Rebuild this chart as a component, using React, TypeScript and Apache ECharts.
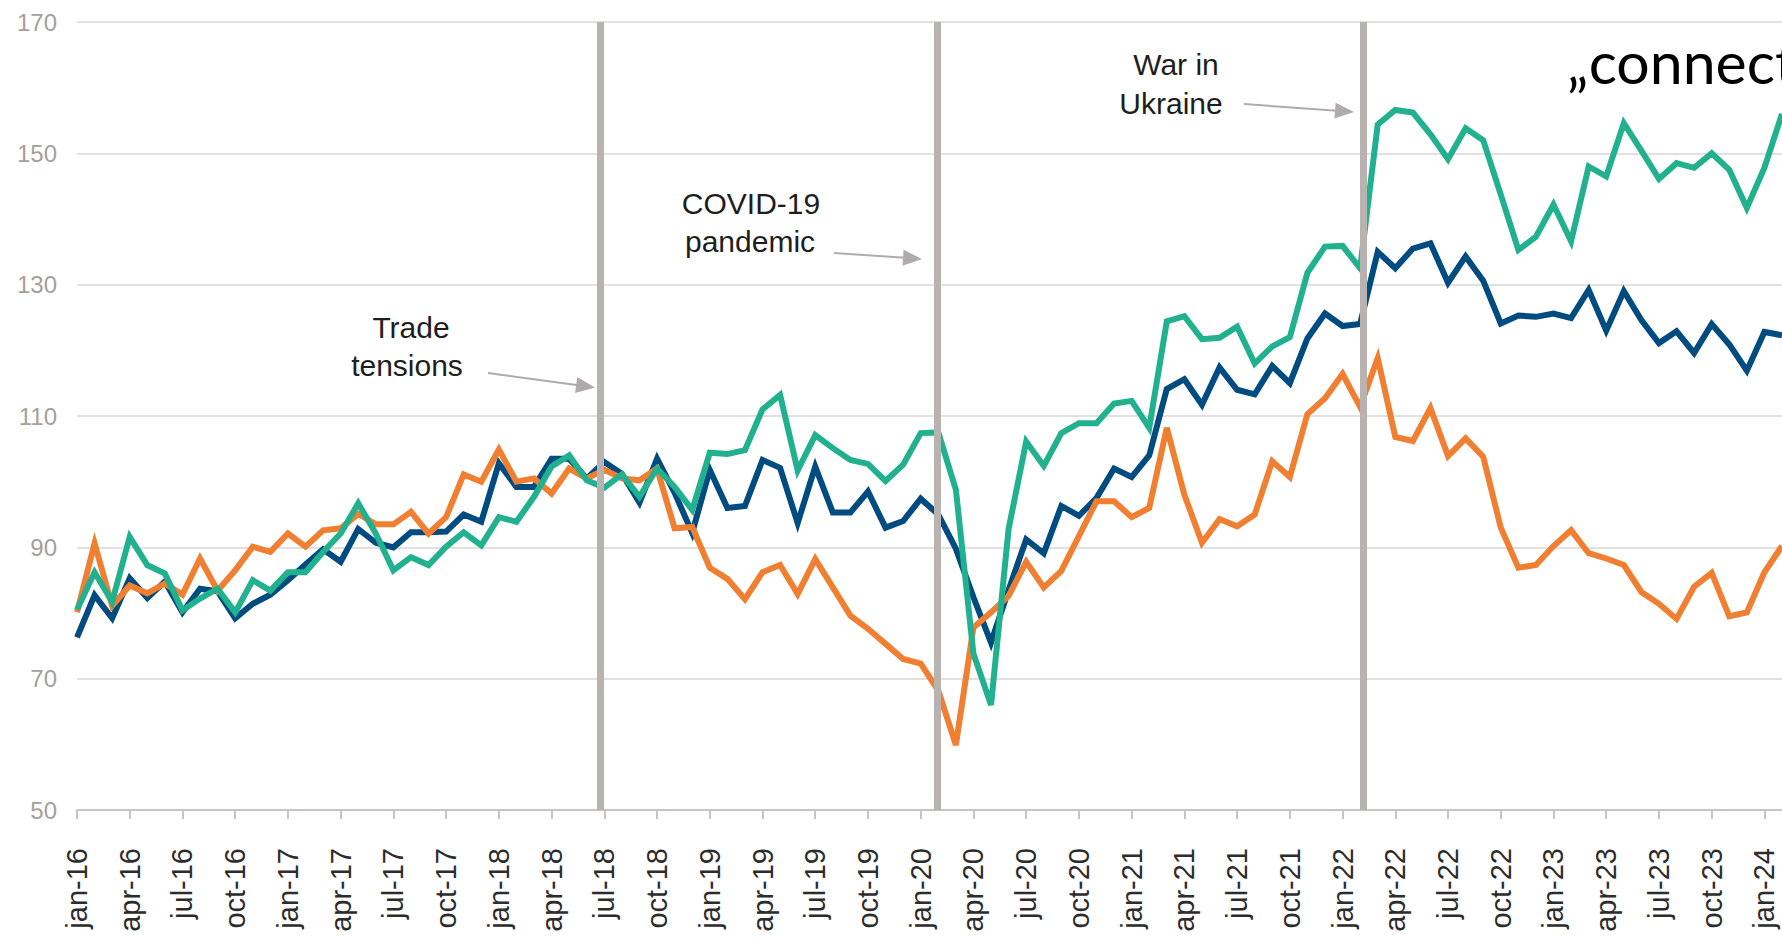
import React, { useEffect, useRef } from "react";
import * as echarts from "echarts";

// ---------- data ----------
const MONTHS = ["jan", "feb", "mar", "apr", "may", "jun", "jul", "aug", "sep", "oct", "nov", "dec"];
const YEARS = ["16", "17", "18", "19", "20", "21", "22", "23", "24"];
const ALL_MONTHS: string[] = [];
YEARS.forEach((y) => MONTHS.forEach((m) => ALL_MONTHS.push(`${m}-${y}`)));
// jan-16 ... feb-24 (right part of the original is cropped)
const categories = ALL_MONTHS.slice(0, 98);

const blueSeries = [
  76.3, 82.7, 79.2, 85.3, 82.3, 84.8, 80.1, 83.7, 83.3, 79.2, 81.4, 82.8,
  85.0, 87.4, 89.7, 87.8, 92.8, 90.7, 90.0, 92.3, 92.3, 92.4, 95.0, 93.9,
  102.8, 99.2, 99.2, 103.5, 103.5, 100.5, 103.0, 101.2, 96.8, 103.5, 98.3, 92.2,
  101.8, 96.0, 96.3, 103.3, 102.1, 93.7, 102.3, 95.3, 95.3, 98.5, 93.0, 94.0,
  97.4, 95.0, 89.8, 82.4, 75.5, 83.5, 91.2, 89.1, 96.3, 94.8, 97.5, 102.0,
  100.7, 104.0, 114.1, 115.6, 111.7, 117.4, 114.0, 113.3, 117.6, 115.0, 121.8, 125.6,
  123.7, 124.0, 135.0, 132.5, 135.5, 136.3, 130.3, 134.3, 130.6, 124.1, 125.3, 125.1,
  125.6, 124.9, 129.2, 123.0, 129.0, 124.6, 121.1, 122.9, 119.6, 124.0, 120.9, 116.9,
  122.8, 122.3,
];

const orangeSeries = [
  80.1, 90.6, 81.1, 84.2, 83.0, 84.5, 82.8, 88.3, 83.4, 86.5, 90.1, 89.3,
  92.1, 90.1, 92.6, 92.9, 95.1, 93.5, 93.5, 95.4, 92.1, 94.6, 101.1, 100.0,
  104.9, 100.0, 100.5, 98.2, 102.0, 100.5, 101.8, 100.5, 100.2, 102.0, 92.9, 93.1,
  86.9, 85.2, 82.1, 86.2, 87.3, 82.9, 88.2, 83.9, 79.6, 77.6, 75.3, 73.0,
  72.3, 68.2, 59.9, 77.8, 80.1, 82.6, 87.8, 83.9, 86.4, 91.7, 97.0, 97.0,
  94.6, 96.0, 108.2, 98.0, 90.7, 94.3, 93.2, 95.0, 103.1, 100.7, 110.3, 112.7,
  116.4, 111.4, 118.8, 106.8, 106.2, 111.2, 103.9, 106.6, 103.8, 93.0, 86.9, 87.3,
  90.2, 92.6, 89.1, 88.3, 87.3, 83.2, 81.4, 79.1, 84.0, 86.1, 79.5, 80.1,
  86.2, 90.2,
];

const greenSeries = [
  80.5, 86.2, 81.7, 91.6, 87.3, 86.0, 80.4, 82.2, 83.7, 80.1, 85.0, 83.4,
  86.2, 86.2, 89.3, 92.1, 96.7, 92.1, 86.5, 88.5, 87.3, 90.1, 92.3, 90.3,
  94.6, 93.9, 97.7, 102.3, 104.0, 100.2, 99.1, 101.1, 97.7, 102.0, 99.2, 95.7,
  104.4, 104.2, 104.8, 111.0, 113.2, 101.7, 107.1, 105.1, 103.3, 102.7, 100.1, 102.6,
  107.4, 107.5, 98.8, 73.8, 66.0, 92.8, 106.1, 102.4, 107.4, 108.9, 108.9, 111.9,
  112.3, 108.2, 124.4, 125.2, 121.7, 121.9, 123.6, 118.0, 120.6, 122.0, 131.8, 135.8,
  135.9, 132.5, 154.4, 156.6, 156.2, 152.9, 149.1, 153.8, 152.0, 143.7, 135.3, 137.3,
  142.2, 136.6, 148.0, 146.5, 154.6, 150.4, 146.1, 148.5, 147.8, 150.0, 147.5, 141.7,
  147.8, 156.0,
];

// event markers (position on the month axis, fractional month index from jan-16)
const eventPositions = [29.75, 48.95, 73.2];
const eventLabels = [
  ["Trade", "tensions"],
  ["COVID-19", "pandemic"],
  ["War in", "Ukraine"],
];

const Y_MIN = 50;
const Y_MAX = 170;
const Y_STEP = 20;

// ---------- styles ----------
const BLUE = "#004b80";
const ORANGE = "#f07f32";
const GREEN = "#22b18f";
const EVENT_GREY = "#b8b3b0";
const ARROW_GREY = "#b0abaa";
const FONT = "'Liberation Sans', Arial, Helvetica, sans-serif";

function arrow(x1: number, y1: number, x2: number, y2: number) {
  const dx = x2 - x1;
  const dy = y2 - y1;
  const len = Math.sqrt(dx * dx + dy * dy);
  const ux = dx / len;
  const uy = dy / len;
  const hl = 19;
  const hw = 8;
  const bx = x2 - ux * hl;
  const by = y2 - uy * hl;
  return [
    {
      type: "line",
      shape: { x1, y1, x2: bx + ux * 2, y2: by + uy * 2 },
      style: { stroke: ARROW_GREY, lineWidth: 2 },
      z: 20,
    },
    {
      type: "polygon",
      shape: {
        points: [
          [x2, y2],
          [bx - uy * hw, by + ux * hw],
          [bx + uy * hw, by - ux * hw],
        ],
      },
      style: { fill: ARROW_GREY },
      z: 20,
    },
  ];
}

function label(text: string, x: number, y: number) {
  return {
    type: "text",
    x,
    y,
    z: 20,
    style: {
      text,
      fill: "#1e1e1e",
      fontSize: 30,
      fontFamily: FONT,
      align: "center",
      verticalAlign: "middle",
    },
  };
}

export default function App() {
  const ref = useRef<HTMLDivElement>(null);

  useEffect(() => {
    if (!ref.current) return;
    const chart = echarts.init(ref.current, undefined, { renderer: "svg" });

    const lineSeries = (name: string, data: number[], color: string, z: number) => ({
      name,
      type: "line",
      data,
      symbol: "none",
      z,
      lineStyle: { color, width: 6, join: "miter" },
      itemStyle: { color },
    });

    const option: any = {
      animation: false,
      backgroundColor: "#ffffff",
      grid: { left: 77, right: 0, top: 22, bottom: 127, containLabel: false },
      xAxis: [
        {
          type: "category",
          data: categories,
          boundaryGap: false,
          axisLine: { show: true, lineStyle: { color: "#c9c4c2", width: 2 } },
          axisTick: { show: true, interval: 2, length: 9, lineStyle: { color: "#c9c4c2", width: 2 } },
          axisLabel: {
            interval: 2,
            rotate: 90,
            margin: 38,
            fontSize: 29,
            color: "#2c2c2c",
            fontFamily: FONT,
          },
          splitLine: { show: false },
        },
        {
          // hidden continuous month axis used only to place the event lines
          type: "value",
          min: 0,
          max: categories.length - 1,
          show: false,
        },
      ],
      yAxis: {
        type: "value",
        min: Y_MIN,
        max: Y_MAX,
        interval: Y_STEP,
        axisLine: { show: false },
        axisTick: { show: false },
        axisLabel: { fontSize: 24, color: "#a59f9d", margin: 20, fontFamily: FONT },
        splitLine: { lineStyle: { color: "#e4e0e0", width: 2 } },
      },
      series: [
        {
          name: "events",
          type: "line",
          xAxisIndex: 1,
          data: [],
          z: 1,
          markLine: {
            silent: true,
            symbol: ["none", "none"],
            label: { show: false },
            lineStyle: { color: EVENT_GREY, width: 7, type: "solid" },
            data: eventPositions.map((p) => ({ xAxis: p })),
          },
        },
        lineSeries("Series 1", blueSeries, BLUE, 2),
        lineSeries("Series 2", orangeSeries, ORANGE, 3),
        lineSeries("Series 3", greenSeries, GREEN, 4),
      ],
      graphic: [
        label(eventLabels[0][0], 411, 327),
        label(eventLabels[0][1], 407, 365),
        ...arrow(488, 373, 595, 387.5),
        label(eventLabels[1][0], 751, 203),
        label(eventLabels[1][1], 750, 241),
        ...arrow(834, 253, 922, 259),
        label(eventLabels[2][0], 1176, 64),
        label(eventLabels[2][1], 1171, 103),
        ...arrow(1244, 104, 1354, 112),
        {
          type: "text",
          x: 1567,
          y: 61,
          z: 30,
          style: {
            text: "\u201Econnect",
            fill: "#000000",
            fontSize: 59,
            fontFamily: "Lato, 'Open Sans', sans-serif",
            align: "left",
            verticalAlign: "middle",
          },
        },
      ],
    };

    chart.setOption(option);
    return () => chart.dispose();
  }, []);

  return (
    <div
      ref={ref}
      style={{ position: "fixed", left: 0, top: 0, width: 1782, height: 937, background: "#fff" }}
    />
  );
}
